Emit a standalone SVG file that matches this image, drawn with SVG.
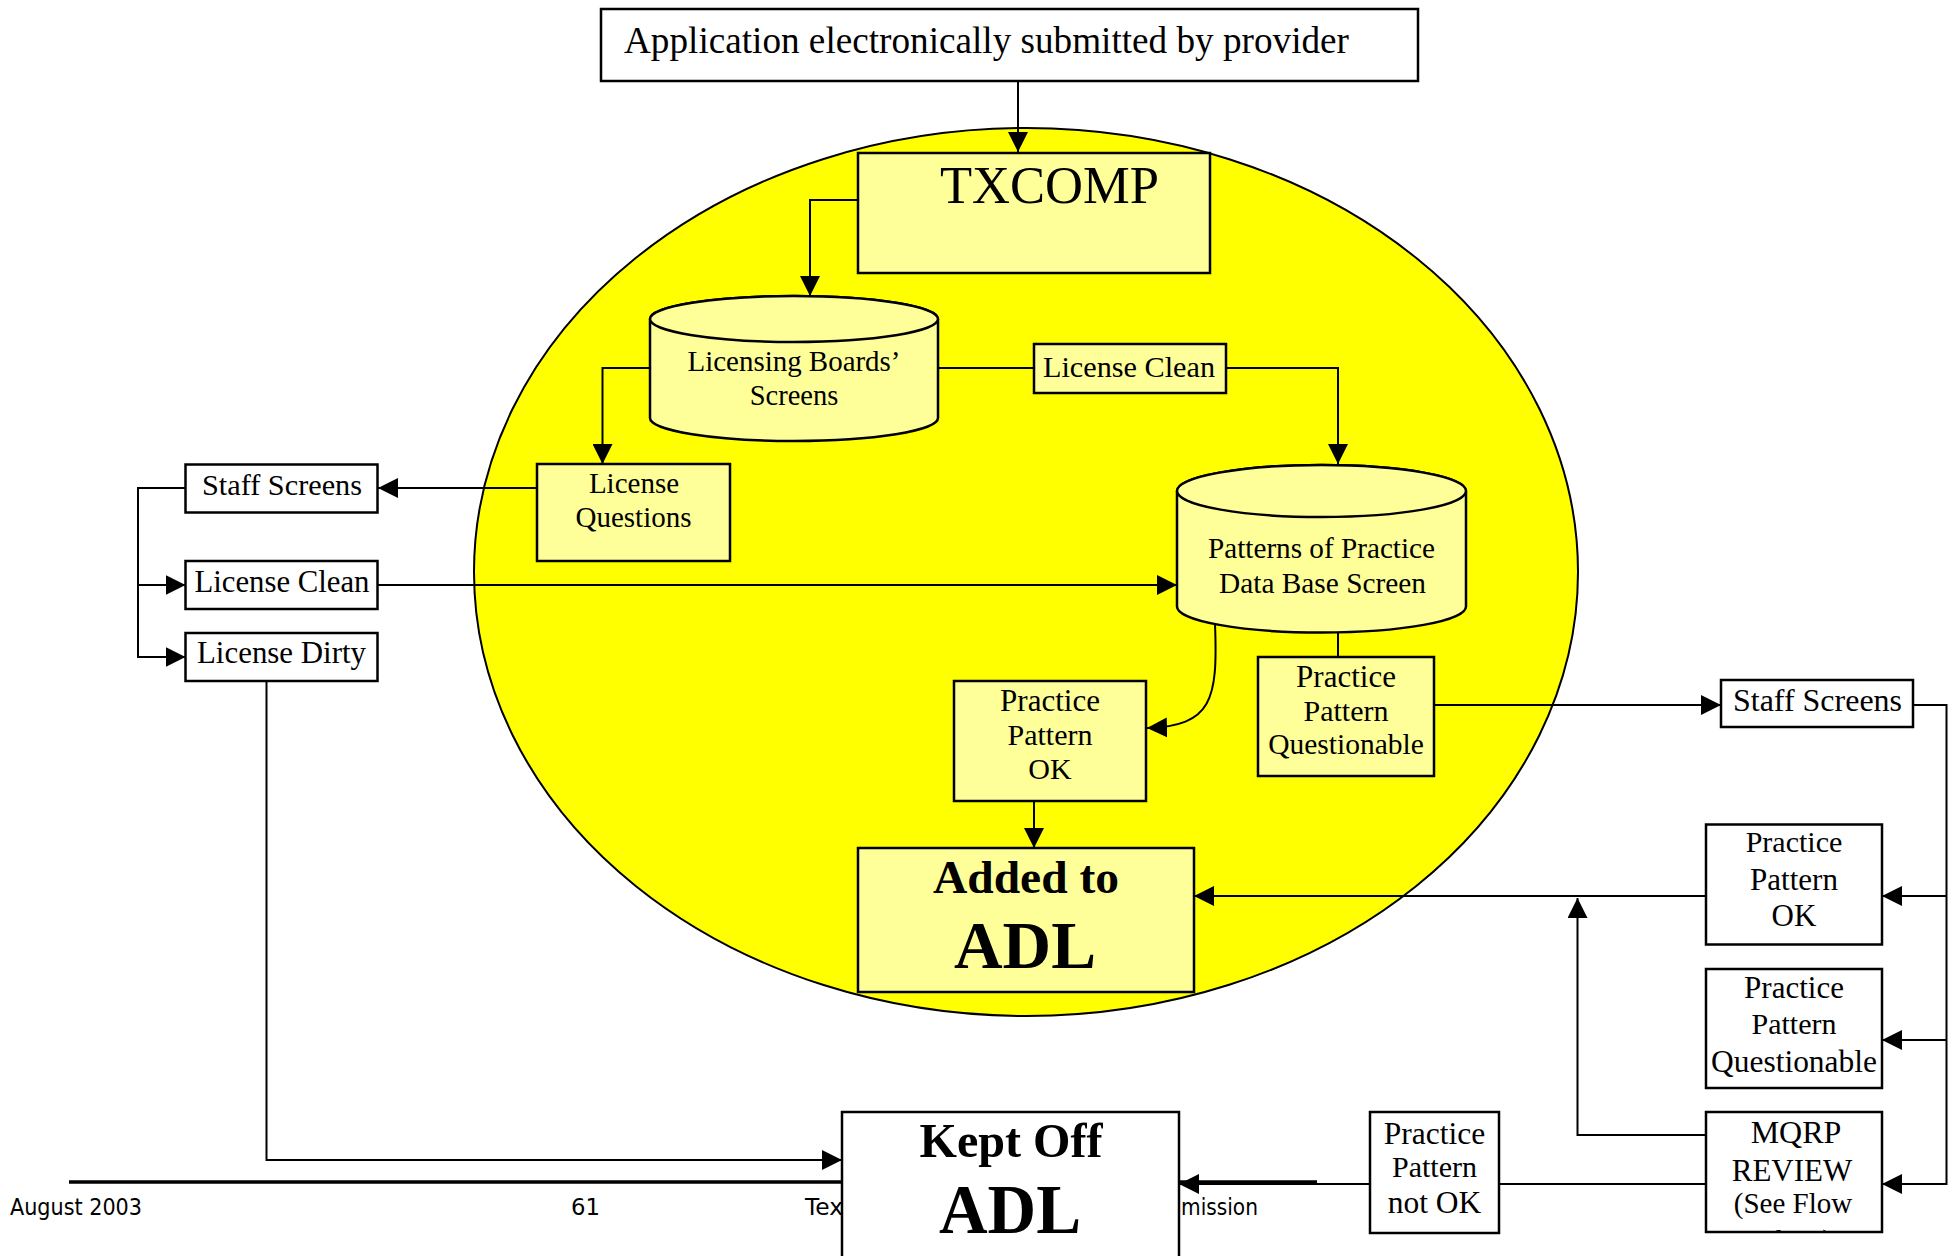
<svg xmlns="http://www.w3.org/2000/svg" width="1953" height="1256" viewBox="0 0 1953 1256">
<style>
.box{fill:#ffffff;stroke:#000;stroke-width:2.5}
.ibox{fill:#FFFF99;stroke:#000;stroke-width:2.5}
.t{font-family:"Liberation Serif","Times New Roman",serif;fill:#000}
.m{text-anchor:middle}
.b{font-weight:bold}
.c{stroke:#000;stroke-width:2;fill:none}
.f{font-family:"DejaVu Sans","Liberation Sans",sans-serif;fill:#000;font-size:23px}
</style>
<defs>
<marker id="ah" markerWidth="20" markerHeight="20" refX="20" refY="10" orient="auto" markerUnits="userSpaceOnUse"><path d="M0,0 L20,10 L0,20 Z" fill="#000"/></marker>
<clipPath id="mqclip"><rect x="1707" y="1113" width="174" height="118"/></clipPath>
</defs>
<rect width="1953" height="1256" fill="#ffffff"/>

<g id="footer">
<line x1="69" y1="1182" x2="1317" y2="1182" stroke="#000" stroke-width="3.5"/>
<text class="f" x="10" y="1215" textLength="132" lengthAdjust="spacingAndGlyphs">August 2003</text>
<text class="f" x="571" y="1215" textLength="29" lengthAdjust="spacingAndGlyphs">61</text>
<text class="f" x="805" y="1215" textLength="38" lengthAdjust="spacingAndGlyphs">Tex</text>
<text class="f" x="1181" y="1215" textLength="77" lengthAdjust="spacingAndGlyphs">mission</text>
</g>

<g id="scope">
<ellipse cx="1026" cy="572" rx="552" ry="444" fill="#FFFF00" stroke="#000" stroke-width="2"/>
</g>

<g id="connectors" class="c">
<path d="M1018,81 V152" marker-end="url(#ah)"/>
<path d="M858,200 H810 V296" marker-end="url(#ah)"/>
<path d="M650,368 H602.5 V464" marker-end="url(#ah)"/>
<path d="M938,368 H1034"/>
<path d="M1226,368 H1338 V464" marker-end="url(#ah)"/>
<path d="M537,488 H378" marker-end="url(#ah)"/>
<path d="M185.5,488 H138 V657 H185.5" marker-end="url(#ah)"/>
<path d="M138,585 H185.5" marker-end="url(#ah)"/>
<path d="M378,585 H1177" marker-end="url(#ah)"/>
<path d="M266.5,681 V1160 H842" marker-end="url(#ah)"/>
<path d="M1215,624 C1218,700 1212,726 1147,728" marker-end="url(#ah)"/>
<path d="M1338,632.5 V657"/>
<path d="M1434,705 H1721" marker-end="url(#ah)"/>
<path d="M1034,801 V848" marker-end="url(#ah)"/>
<path d="M1913,705 H1946.5 V1184 H1882" marker-end="url(#ah)"/>
<path d="M1946.5,896 H1882" marker-end="url(#ah)"/>
<path d="M1946.5,1040 H1882" marker-end="url(#ah)"/>
<path d="M1706,896 H1194" marker-end="url(#ah)"/>
<path d="M1706,1135 H1577.5 V898" marker-end="url(#ah)"/>
<path d="M1706,1184 H1499"/>
<path d="M1370,1184 H1179" marker-end="url(#ah)"/>
</g>

<g id="n-app">
<rect class="box" x="601" y="9" width="817" height="72"/>
<text class="t" x="624" y="53" font-size="37" textLength="725" lengthAdjust="spacingAndGlyphs">Application electronically submitted by provider</text>
</g>

<g id="n-txcomp">
<rect class="ibox" x="858" y="153" width="352" height="120"/>
<text class="t" x="940" y="203" font-size="52" textLength="219" lengthAdjust="spacingAndGlyphs">TXCOMP</text>
</g>

<g id="n-licensing-boards">
<path class="ibox" d="M650,319 V418 A144,23 0 0 0 938,418 V319 A144,23 0 0 0 650,319 Z"/>
<ellipse class="ibox" cx="794" cy="319" rx="144" ry="23"/>
<text class="t m" x="794" y="371" font-size="28.5" textLength="213" lengthAdjust="spacingAndGlyphs">Licensing Boards’</text>
<text class="t m" x="794" y="405" font-size="28.5">Screens</text>
</g>

<g id="n-license-clean-inner">
<rect class="ibox" x="1034" y="344" width="192" height="49"/>
<text class="t" x="1043" y="377" font-size="30" textLength="172" lengthAdjust="spacingAndGlyphs">License Clean</text>
</g>

<g id="n-license-questions">
<rect class="ibox" x="537" y="464" width="193" height="97"/>
<text class="t m" x="634" y="493" font-size="29">License</text>
<text class="t m" x="633.5" y="527" font-size="29">Questions</text>
</g>

<g id="n-staff-left">
<rect class="box" x="185.5" y="464.5" width="192" height="48"/>
<text class="t" x="202" y="495" font-size="30" textLength="160" lengthAdjust="spacingAndGlyphs">Staff Screens</text>
</g>

<g id="n-clean-left">
<rect class="box" x="185.5" y="561" width="192" height="48"/>
<text class="t" x="194.5" y="592" font-size="30.5" textLength="175" lengthAdjust="spacingAndGlyphs">License Clean</text>
</g>

<g id="n-dirty-left">
<rect class="box" x="185.5" y="633" width="192" height="48"/>
<text class="t" x="197" y="663" font-size="30.5" textLength="169" lengthAdjust="spacingAndGlyphs">License Dirty</text>
</g>

<g id="n-patterns">
<path class="ibox" d="M1177,491 V606.5 A144.5,26 0 0 0 1466,606.5 V491 A144.5,26 0 0 0 1177,491 Z"/>
<ellipse class="ibox" cx="1321.5" cy="491" rx="144.5" ry="26"/>
<text class="t m" x="1321.5" y="558" font-size="29" textLength="227" lengthAdjust="spacingAndGlyphs">Patterns of Practice</text>
<text class="t m" x="1322.5" y="593" font-size="29" textLength="207" lengthAdjust="spacingAndGlyphs">Data Base Screen</text>
</g>

<g id="n-ppok-inner">
<rect class="ibox" x="954" y="681" width="192" height="120"/>
<text class="t m" x="1050" y="711" font-size="31">Practice</text>
<text class="t m" x="1050" y="745" font-size="30">Pattern</text>
<text class="t m" x="1050" y="779" font-size="30">OK</text>
</g>

<g id="n-ppq-inner">
<rect class="ibox" x="1258" y="657" width="176" height="119"/>
<text class="t m" x="1346" y="687" font-size="31">Practice</text>
<text class="t m" x="1346" y="721" font-size="30">Pattern</text>
<text class="t m" x="1346" y="754" font-size="29.5">Questionable</text>
</g>

<g id="n-added">
<rect class="ibox" x="858" y="848" width="336" height="144"/>
<text class="t m b" x="1026" y="893" font-size="46" textLength="186" lengthAdjust="spacingAndGlyphs">Added to</text>
<text class="t m b" x="1025" y="968" font-size="68" textLength="142" lengthAdjust="spacingAndGlyphs">ADL</text>
</g>

<g id="n-staff-right">
<rect class="box" x="1721" y="680" width="192" height="47"/>
<text class="t" x="1733" y="711" font-size="31" textLength="169" lengthAdjust="spacingAndGlyphs">Staff Screens</text>
</g>

<g id="n-ppok-right">
<rect class="box" x="1706" y="824.5" width="176" height="120"/>
<text class="t m" x="1794" y="852" font-size="30">Practice</text>
<text class="t m" x="1794" y="890" font-size="31">Pattern</text>
<text class="t m" x="1794" y="926" font-size="31">OK</text>
</g>

<g id="n-ppq-right">
<rect class="box" x="1706" y="969" width="176" height="119"/>
<text class="t m" x="1794" y="998" font-size="31">Practice</text>
<text class="t m" x="1794" y="1034" font-size="30">Pattern</text>
<text class="t m" x="1794" y="1072" font-size="31" textLength="166" lengthAdjust="spacingAndGlyphs">Questionable</text>
</g>

<g id="n-mqrp">
<rect class="box" x="1706" y="1112" width="176" height="120"/>
<text class="t m" x="1796" y="1143" font-size="32">MQRP</text>
<text class="t m" x="1792" y="1181" font-size="31">REVIEW</text>
<text class="t m" x="1793" y="1213" font-size="29">(See Flow</text>
<text class="t m" x="1794" y="1250" font-size="30" clip-path="url(#mqclip)">Chart)</text>
</g>

<g id="n-notok">
<rect class="box" x="1370" y="1112" width="129" height="121"/>
<text class="t m" x="1434.5" y="1144" font-size="31.5">Practice</text>
<text class="t m" x="1434.5" y="1177" font-size="30">Pattern</text>
<text class="t m" x="1434.5" y="1213" font-size="31.5">not OK</text>
</g>

<g id="n-kept">
<rect class="box" x="842" y="1112" width="337" height="170"/>
<text class="t m b" x="1011" y="1157" font-size="48" textLength="183" lengthAdjust="spacingAndGlyphs">Kept Off</text>
<text class="t m b" x="1010" y="1233" font-size="70" textLength="142" lengthAdjust="spacingAndGlyphs">ADL</text>
</g>
</svg>
